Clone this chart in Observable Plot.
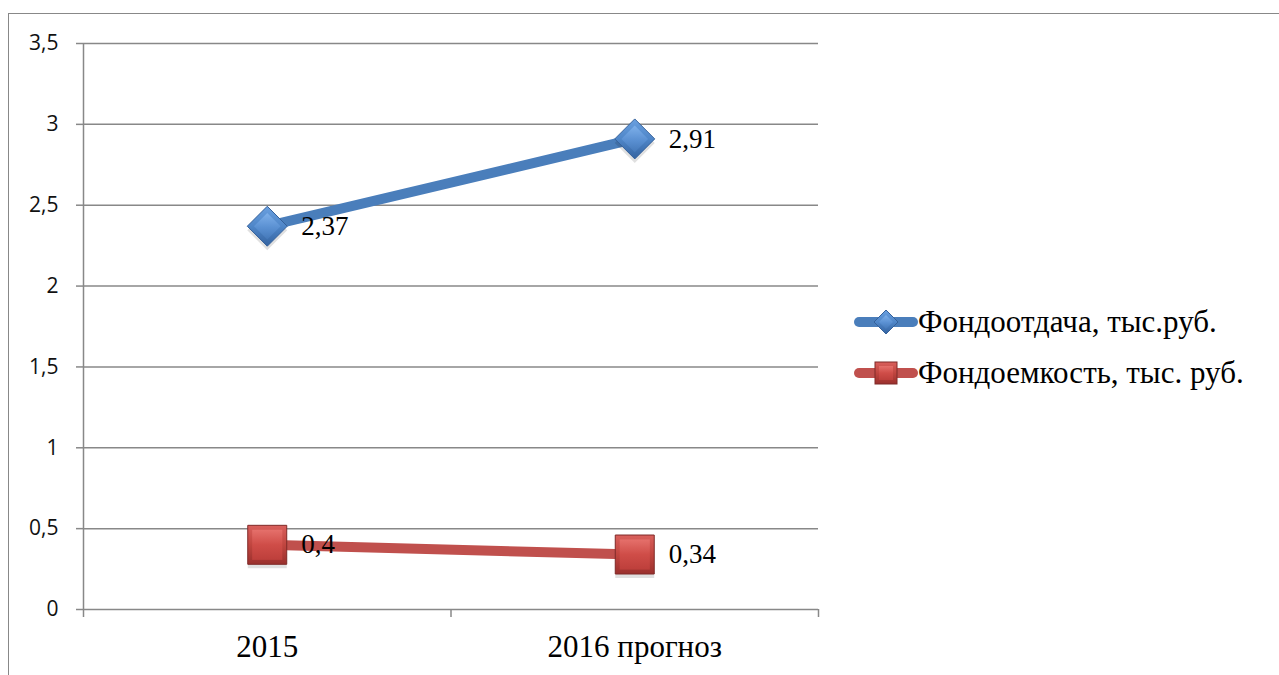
<!DOCTYPE html>
<html>
<head>
<meta charset="utf-8">
<script src="https://cdn.jsdelivr.net/npm/d3@7"></script>
<script src="https://cdn.jsdelivr.net/npm/@observablehq/plot@0.6"></script>
<style>
  html, body { margin: 0; padding: 0; background: #fff; }
  #chart { position: relative; width: 1279px; height: 675px; overflow: hidden; }
  #chart svg.plot { position: absolute; left: 0; top: 0; }
  #frame { position: absolute; left: 8px; top: 13px; right: -10px; bottom: -10px;
           border-left: 1.5px solid #888; border-top: 1.5px solid #888; }
  #legend { position: absolute; left: 852px; top: 0; font-family: "Liberation Serif", "Times New Roman", serif;
            font-size: 31px; color: #000; }
  .row { position: absolute; left: 0; display: flex; align-items: center; white-space: nowrap; height: 40px; }
  .row svg { display: block; }
</style>
</head>
<body>
<div id="chart">
  <div id="frame"></div>
</div>
<script>
// Categories and series values
const categories = ["2015", "2016 прогноз"];
const seriesNames = ["Фондоотдача, тыс.руб.", "Фондоемкость, тыс. руб."];
const fondootdacha = [2.37, 2.91];
const fondoemkost = [0.4, 0.34];
const yTicks = [0, 0.5, 1, 1.5, 2, 2.5, 3, 3.5];
const seriesColors = ["#4a7ebb", "#c0504d"];

const fmt = v => String(v).replace(".", ",");

const rowsA = fondootdacha.map((value, i) => ({series: seriesNames[0], i, value}));
const rowsB = fondoemkost.map((value, i) => ({series: seriesNames[1], i, value}));
const rows = [...rowsA, ...rowsB];

const serif = "Liberation Serif, Times New Roman, serif";

const chart = Plot.plot({
  width: 1279,
  height: 675,
  marginLeft: 83,
  marginRight: 461,
  marginTop: 43,
  marginBottom: 66,
  style: {background: "transparent", color: "#000"},
  x: {type: "linear", domain: [-0.5, categories.length - 0.5], axis: null},
  y: {domain: [0, 3.5], axis: null},
  color: {domain: seriesNames, range: seriesColors},
  marks: [
    Plot.gridY(yTicks, {stroke: "#888", strokeOpacity: 1, strokeWidth: 1.5}),
    Plot.axisY(yTicks, {label: null, tickSize: 7, tickPadding: 18, stroke: "#888", strokeWidth: 1.5,
      tickFormat: fmt, fontSize: 21, fontFamily: "Open Sans, sans-serif", fill: "#111"}),
    Plot.ruleX([-0.5], {stroke: "#888", strokeWidth: 1.5}),
    // category boundary ticks below the baseline
    Plot.axisX(d3.range(categories.length + 1).map(k => k - 0.5),
      {label: null, tickSize: 8, stroke: "#888", strokeWidth: 1.5, tickFormat: () => ""}),
    // category labels
    Plot.axisX(d3.range(categories.length), {label: null, tickSize: 0, tickPadding: 25,
      tickFormat: i => categories[i], fontSize: 31, fontFamily: serif, fill: "#000"}),
    // series lines
    Plot.line(rows, {x: "i", y: "value", z: "series", stroke: "series", strokeWidth: 10}),
    // diamond markers (shadow, body, highlight)
    Plot.dot(rowsA, {x: "i", y: "value", symbol: "diamond2", r: 18, dy: 4, fill: "rgba(0,0,0,0.12)"}),
    Plot.dot(rowsA, {x: "i", y: "value", symbol: "diamond2", r: 18, fill: "url(#gBlueOuter)", stroke: "#35619a", strokeWidth: 1}),
    Plot.dot(rowsA, {x: "i", y: "value", symbol: "diamond2", r: 12, fill: "url(#gBlueInner)"}),
    // square markers (shadow, body, highlight)
    Plot.dot(rowsB, {x: "i", y: "value", symbol: "square", r: 22, dy: 4, fill: "rgba(0,0,0,0.12)"}),
    Plot.dot(rowsB, {x: "i", y: "value", symbol: "square", r: 22, fill: "url(#gRedOuter)", stroke: "#7f2a28", strokeWidth: 1}),
    Plot.dot(rowsB, {x: "i", y: "value", symbol: "square", r: 17, fill: "url(#gRedInner)"}),
    // value labels
    Plot.text(rows, {x: "i", y: "value", text: d => fmt(d.value), dx: 34, textAnchor: "start",
      fontSize: 27, fontFamily: serif, fill: "#000"})
  ]
});
chart.classList.add("plot");

// gradients used by the markers
const defs = d3.select(chart).insert("defs", ":first-child");
function grad(id, stops) {
  const g = defs.append("linearGradient").attr("id", id).attr("x1", 0).attr("y1", 0).attr("x2", 0).attr("y2", 1);
  stops.forEach(([o, c]) => g.append("stop").attr("offset", o).attr("stop-color", c));
}
grad("gBlueOuter", [[0, "#6aa0e0"], [0.5, "#4f86c8"], [1, "#3463a0"]]);
grad("gBlueInner", [[0, "#7eb0ea"], [0.55, "#5a90d2"], [1, "#4478b8"]]);
grad("gRedOuter", [[0, "#d9605c"], [0.5, "#c0453f"], [1, "#9a302d"]]);
grad("gRedInner", [[0, "#e5706b"], [0.5, "#cf4d48"], [1, "#bd3f3b"]]);

document.getElementById("chart").appendChild(chart);

// legend on the right
const legend = document.createElement("div");
legend.id = "legend";
const legendTops = [302, 353];
const legendSymbols = ["diamond", "square"];
seriesNames.forEach((name, k) => {
  const row = document.createElement("div");
  row.className = "row";
  row.style.top = legendTops[k] + "px";
  const s = d3.create("svg").attr("width", 66).attr("height", 40);
  s.append("line").attr("x1", 7).attr("x2", 61).attr("y1", 20).attr("y2", 20)
    .attr("stroke", seriesColors[k]).attr("stroke-width", 10).attr("stroke-linecap", "round");
  if (legendSymbols[k] === "diamond") {
    s.append("path").attr("d", "M34,8L46,20L34,32L22,20Z").attr("fill", "url(#gBlueOuter)").attr("stroke", "#35619a");
    s.append("path").attr("d", "M34,13L41,20L34,27L27,20Z").attr("fill", "url(#gBlueInner)");
  } else {
    s.append("rect").attr("x", 23).attr("y", 9).attr("width", 22).attr("height", 22).attr("fill", "url(#gRedOuter)").attr("stroke", "#7f2a28");
    s.append("rect").attr("x", 27).attr("y", 13).attr("width", 14).attr("height", 14).attr("fill", "url(#gRedInner)");
  }
  row.appendChild(s.node());
  const t = document.createElement("span");
  t.textContent = name;
  row.appendChild(t);
  legend.appendChild(row);
});
document.getElementById("chart").appendChild(legend);
</script>
</body>
</html>
